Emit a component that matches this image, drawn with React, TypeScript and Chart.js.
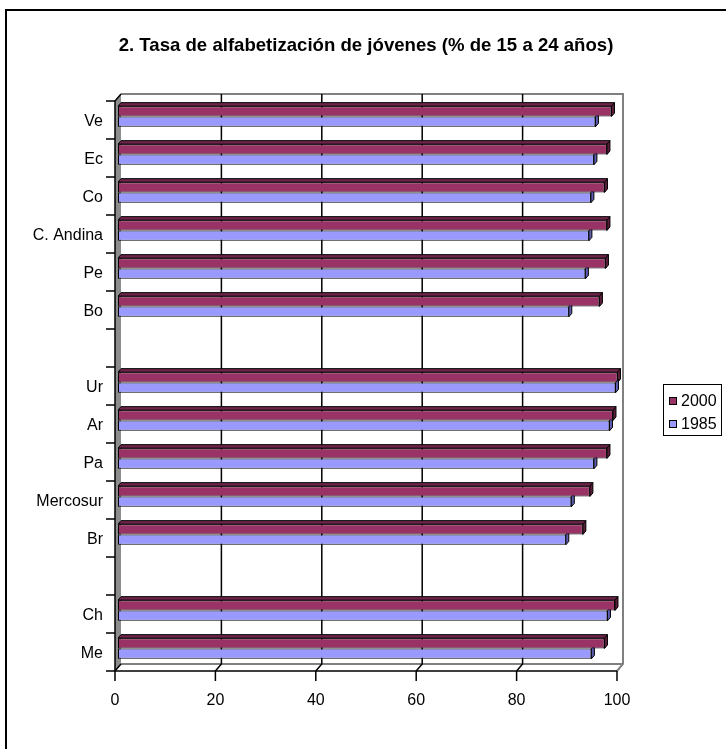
import React, { useEffect, useRef } from "react";
import { Chart, registerables } from "chart.js";

Chart.register(...registerables);

// ---- data ----
const categories = ["Ve", "Ec", "Co", "C. Andina", "Pe", "Bo", " ", "Ur", "Ar", "Pa", "Mercosur", "Br", "  ", "Ch", "Me"];
const values2000 = [98.3, 97.4, 96.9, 97.4, 97.1, 95.9, null, 99.5, 98.6, 97.4, 94.0, 92.6, null, 99.0, 96.9];
const values1985 = [95.1, 94.8, 94.2, 93.8, 93.1, 89.8, null, 99.1, 97.9, 94.8, 90.3, 89.2, null, 97.5, 94.3];
const seriesLabels = ["2000", "1985"];
const xTickValues = [0, 20, 40, 60, 80, 100];
const chartTitle = "2. Tasa de alfabetización de jóvenes (% de 15 a 24 años)";

// ---- styles / layout ----
const W = 726;
const H = 749;
const FONT = "'Liberation Sans', Arial, sans-serif";
const frontColors = ["#993366", "#9999FF"];
const sideColors = ["#5a1e3c", "#5c5cb0"];
const topColors = ["#6e2449", "#7777cc"];
const AREA = { left: 118, right: 620, top: 97.5, bottom: 667.5 };
const DX = 3;
const DY = 3.5;
const TITLE_SIZE = 18.6;
const TITLE_X = 366;
const TITLE_Y = 46;

const decorPlugin = {
  id: "decor3d",
  beforeDatasetsDraw(chart: any) {
    const { ctx, chartArea: a, scales } = chart;
    const x = scales.x;
    const fl = a.left - DX, fr = a.right - DX, ft = a.top + DY, fb = a.bottom + DY;
    const bl = a.left + DX, br = a.right + DX, bt = a.top - DY, bb = a.bottom - DY;
    ctx.save();
    // left wall
    ctx.fillStyle = "#8c8c8c";
    ctx.beginPath();
    ctx.moveTo(fl, ft);
    ctx.lineTo(bl, bt);
    ctx.lineTo(bl, bb);
    ctx.lineTo(fl, fb);
    ctx.closePath();
    ctx.fill();
    // back wall outline (gray)
    ctx.strokeStyle = "#808080";
    ctx.lineWidth = 2;
    ctx.beginPath();
    ctx.moveTo(bl, bt);
    ctx.lineTo(br, bt);
    ctx.lineTo(br, bb);
    ctx.lineTo(fr, fb);
    ctx.stroke();
    ctx.beginPath();
    ctx.moveTo(bl, bb);
    ctx.lineTo(br, bb);
    ctx.stroke();
    // gridlines, floor diagonals, x ticks
    ctx.strokeStyle = "#000";
    ctx.lineWidth = 1.5;
    xTickValues.forEach((v, i) => {
      const px = x.getPixelForValue(v);
      ctx.beginPath();
      if (i > 0 && i < xTickValues.length - 1) {
        ctx.moveTo(px + DX, bt);
        ctx.lineTo(px + DX, bb);
        ctx.lineTo(px - DX, fb);
      } else if (i === 0) {
        ctx.moveTo(px + DX, bb);
        ctx.lineTo(px - DX, fb);
      }
      ctx.moveTo(px - DX, fb);
      ctx.lineTo(px - DX, fb + 10);
      ctx.stroke();
    });
    // front axes
    ctx.beginPath();
    ctx.moveTo(fl, fb);
    ctx.lineTo(fr, fb);
    ctx.moveTo(bl, bt);
    ctx.lineTo(fl, ft);
    ctx.lineTo(fl, fb);
    ctx.stroke();
    // y tick marks at category boundaries
    const n = categories.length;
    ctx.beginPath();
    for (let i = 0; i <= n; i++) {
      const yy = ft + (i * (fb - ft)) / n;
      ctx.moveTo(fl - 9, yy);
      ctx.lineTo(fl, yy);
    }
    ctx.stroke();
    // 3D faces of bars
    ctx.lineWidth = 1;
    chart.data.datasets.forEach((_: any, di: number) => {
      const meta = chart.getDatasetMeta(di);
      meta.data.forEach((bar: any) => {
        const p = bar.getProps(["x", "y", "base", "height"], true);
        if (!isFinite(p.x) || !isFinite(p.y)) return;
        if (Math.abs(p.x - p.base) < 0.5) return;
        const top = p.y - p.height / 2;
        const bottom = p.y + p.height / 2;
        ctx.fillStyle = sideColors[di];
        ctx.beginPath();
        ctx.moveTo(p.x, top);
        ctx.lineTo(p.x + DX, top - DY);
        ctx.lineTo(p.x + DX, bottom - DY);
        ctx.lineTo(p.x, bottom);
        ctx.closePath();
        ctx.fill();
        ctx.stroke();
        if (di === 0) {
          ctx.fillStyle = topColors[di];
          ctx.beginPath();
          ctx.moveTo(p.base, top);
          ctx.lineTo(p.base + DX, top - DY);
          ctx.lineTo(p.x + DX, top - DY);
          ctx.lineTo(p.x, top);
          ctx.closePath();
          ctx.fill();
          ctx.stroke();
        }
      });
    });
    ctx.restore();
  },
  afterDraw(chart: any) {
    const { ctx } = chart;
    ctx.save();
    // outer frame
    ctx.strokeStyle = "#000";
    ctx.lineWidth = 2;
    ctx.strokeRect(6, 10, W + 20, H + 20);
    // title
    ctx.fillStyle = "#000";
    ctx.font = `bold ${TITLE_SIZE}px ${FONT}`;
    ctx.textAlign = "center";
    ctx.textBaseline = "middle";
    ctx.fillText(chartTitle, TITLE_X, TITLE_Y);
    // legend
    ctx.lineWidth = 1;
    ctx.strokeRect(663.5, 384.5, 58, 51);
    ctx.font = `16px ${FONT}`;
    ctx.textBaseline = "middle";
    ctx.textAlign = "left";
    chart.data.datasets.forEach((ds: any, i: number) => {
      const cy = 401 + i * 23;
      ctx.fillStyle = ds.backgroundColor;
      ctx.fillRect(669, cy - 4, 8, 8);
      ctx.strokeStyle = "#000";
      ctx.strokeRect(669.5, cy - 3.5, 7, 7);
      ctx.fillStyle = "#000";
      ctx.fillText(ds.label, 681, cy + 1);
    });
    ctx.restore();
  },
};

export default function App() {
  const ref = useRef<HTMLCanvasElement | null>(null);
  useEffect(() => {
    if (!ref.current) return;
    const chart = new Chart(ref.current, {
      type: "bar",
      data: {
        labels: categories,
        datasets: [
          {
            label: seriesLabels[0],
            data: values2000,
            backgroundColor: frontColors[0],
            borderColor: "#000",
            borderWidth: 1,
            borderSkipped: false,
            categoryPercentage: 0.545,
            barPercentage: 1,
          },
          {
            label: seriesLabels[1],
            data: values1985,
            backgroundColor: frontColors[1],
            borderColor: "#000",
            borderWidth: 1,
            borderSkipped: false,
            categoryPercentage: 0.545,
            barPercentage: 1,
          },
        ],
      } as any,
      options: {
        indexAxis: "y",
        animation: false,
        responsive: false,
        events: [],
        layout: { padding: { left: 0, top: AREA.top, right: W - AREA.right, bottom: 0 } },
        plugins: {
          legend: { display: false },
          tooltip: { enabled: false },
          title: { display: false },
        },
        scales: {
          x: {
            type: "linear",
            min: 0,
            max: 100,
            position: "bottom",
            afterFit: (s: any) => {
              s.height = H - AREA.bottom;
            },
            ticks: {
              stepSize: 20,
              labelOffset: -DX,
              padding: 23,
              color: "#000",
              font: { family: FONT, size: 16 },
            },
            grid: { display: false, drawTicks: false, tickLength: 0 },
            border: { display: false },
          },
          y: {
            type: "category",
            afterFit: (s: any) => {
              s.width = AREA.left;
            },
            ticks: {
              autoSkip: false,
              padding: 15,
              labelOffset: 5,
              color: "#000",
              font: { family: FONT, size: 16 },
            },
            grid: { display: false, drawTicks: false, tickLength: 0 },
            border: { display: false },
          },
        },
      } as any,
      plugins: [decorPlugin],
    });
    return () => chart.destroy();
  }, []);
  return (
    <div style={{ position: "absolute", left: 0, top: 0, width: W, height: H, background: "#fff" }}>
      <canvas ref={ref} width={W} height={H} style={{ width: W, height: H, display: "block" }} />
    </div>
  );
}
